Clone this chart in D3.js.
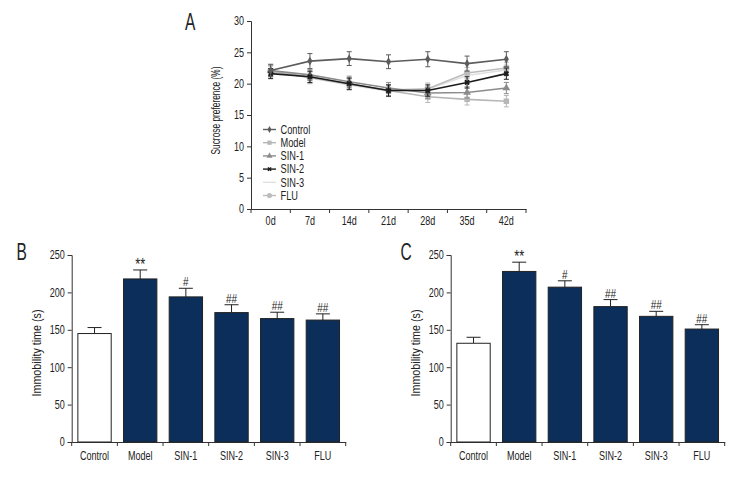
<!DOCTYPE html>
<html><head><meta charset="utf-8">
<script src="https://cdn.jsdelivr.net/npm/d3@7"></script>
<style>
body{margin:0;background:#fff;}
svg text{font-family:"Liberation Sans",Arial,sans-serif;fill:#222;}
</style></head>
<body><svg id="c" width="756" height="480"></svg>
<script>
// ---- Panel A data ----
const days = ["0d","7d","14d","21d","28d","35d","42d"];
const seriesNames = ["Control","Model","SIN-1","SIN-2","SIN-3","FLU"];
const controlA = [22.1, 23.6, 24.0, 23.5, 23.9, 23.2, 23.9];
const controlAErr = [1.0, 1.2, 1.1, 1.1, 1.2, 1.2, 1.2];
const modelA = [22.0, 21.0, 20.0, 18.9, 17.9, 17.5, 17.2];
const modelAErr = [0.9, 1.0, 0.9, 0.9, 0.9, 0.9, 0.9];
const sin1A = [22.1, 21.4, 20.3, 19.3, 18.5, 18.6, 19.3];
const sin1AErr = [0.9, 0.9, 0.9, 0.9, 0.9, 0.9, 0.9];
const sin2A = [21.6, 21.1, 20.0, 18.9, 18.9, 20.2, 21.6];
const sin2AErr = [0.8, 0.9, 0.9, 0.9, 0.9, 0.9, 0.9];
const sin3A = [22.0, 20.9, 19.8, 18.8, 19.1, 21.3, 22.2];
const sin3AErr = [0.8, 0.9, 0.9, 0.9, 0.9, 0.9, 0.9];
const fluA = [22.0, 21.0, 19.9, 19.0, 19.2, 21.7, 22.5];
const fluAErr = [0.8, 0.9, 0.9, 0.9, 0.9, 0.9, 0.9];
const ticksA = [0, 5, 10, 15, 20, 25, 30];

// ---- Panel B / C data ----
const groups = ["Control","Model","SIN-1","SIN-2","SIN-3","FLU"];
const valuesB = [145, 218, 194, 173, 165, 163];
const errB = [8, 12, 11.5, 10.5, 8.5, 8.3];
const sigB = ["", "**", "#", "##", "##", "##"];
const valuesC = [132, 228, 207, 181, 168, 151];
const errC = [8, 12.4, 8.5, 9.4, 6.7, 5.8];
const sigC = ["", "**", "#", "##", "##", "##"];
const ticksBC = [0, 50, 100, 150, 200, 250];

const svg = d3.select("#c");
const AX = "#333";
const SX = 0.74; // horizontal condensing of text

function cond(sel, s) {
  sel.each(function () {
    const t = d3.select(this);
    const x = +t.attr("x") || 0, y = +t.attr("y") || 0;
    t.attr("transform", `translate(${x},${y}) scale(${s},1) translate(${-x},${-y})`);
  });
}
function rotTitle(g, cx, cy, txt, len) {
  g.append("text").attr("transform", `translate(${cx},${cy}) rotate(-90) scale(${SX},1)`)
    .attr("text-anchor", "middle").attr("dy", "0.35em").attr("font-size", 12.5)
    .attr("textLength", len / SX).attr("lengthAdjust", "spacingAndGlyphs").text(txt);
}
function letter(x, y, t) {
  const el = svg.append("text").attr("x", x).attr("y", y).attr("font-size", 23.5).text(t);
  cond(el, 0.66);
}

// ================= Panel A =================
const colorsA = ["#5c5c5c", "#b7b7b7", "#8c8c8c", "#1c1c1c", "#e0e0e0", "#bcbcbc"];
const symbolsA = [d3.symbolDiamond, d3.symbolSquare, d3.symbolTriangle, d3.symbolCross, null, d3.symbolCircle];
const symSize = [22, 30, 26, 20, 0, 34];
const dataA = [controlA, modelA, sin1A, sin2A, sin3A, fluA];
const errA = [controlAErr, modelAErr, sin1AErr, sin2AErr, sin3AErr, fluAErr];

const xA = d3.scaleBand().domain(days).range([251, 526]).padding(0);
const yA = d3.scaleLinear().domain([0, 30]).range([209, 21]);
const gA = svg.append("g");

gA.append("g").attr("class","ax").attr("transform","translate(251,0)")
  .call(d3.axisLeft(yA).tickValues(ticksA).tickSize(4).tickPadding(3));
gA.append("g").attr("class","ax").attr("transform","translate(0,209)")
  .call(d3.axisBottom(xA).tickSize(0).tickPadding(7.5));
const boundsA = days.map(d => xA(d)).concat([xA.range()[1]]);
gA.selectAll("line.xt").data(boundsA).enter().append("line")
  .attr("x1", d => d).attr("x2", d => d).attr("y1", 209).attr("y2", 213)
  .attr("stroke", AX);

rotTitle(gA, 216, 110.5, "Sucrose preference (%)", 88);
letter(185, 30, "A");

const cx = d => xA(d) + xA.bandwidth() / 2;
[4,5,1,2,3,0].forEach(i => {
  const vals = dataA[i], errs = errA[i], col = colorsA[i];
  const g = gA.append("g");
  days.forEach((d, k) => {
    const x = cx(d), y1 = yA(vals[k] + errs[k]), y2 = yA(vals[k] - errs[k]);
    g.append("line").attr("x1", x).attr("x2", x).attr("y1", y1).attr("y2", y2).attr("stroke", col);
    g.append("line").attr("x1", x - 2.5).attr("x2", x + 2.5).attr("y1", y1).attr("y2", y1).attr("stroke", col);
    g.append("line").attr("x1", x - 2.5).attr("x2", x + 2.5).attr("y1", y2).attr("y2", y2).attr("stroke", col);
  });
  const line = d3.line().x((v, k) => cx(days[k])).y(v => yA(v));
  g.append("path").attr("d", line(vals)).attr("fill","none").attr("stroke", col).attr("stroke-width", 1.6);
  if (symbolsA[i]) {
    g.selectAll("path.m").data(vals).enter().append("path")
      .attr("transform", (v, k) => `translate(${cx(days[k])},${yA(v)})` + (i === 3 ? " rotate(45)" : ""))
      .attr("d", d3.symbol().type(symbolsA[i]).size(symSize[i]))
      .attr("fill", col);
  }
});

const legA = gA.append("g");
seriesNames.forEach((n, i) => {
  const y = 129.5 + i * 13.2;
  legA.append("line").attr("x1", 263).attr("x2", 276).attr("y1", y).attr("y2", y)
    .attr("stroke", colorsA[i]).attr("stroke-width", 1.4);
  if (symbolsA[i]) {
    legA.append("path").attr("transform", `translate(269.5,${y})` + (i === 3 ? " rotate(45)" : ""))
      .attr("d", d3.symbol().type(symbolsA[i]).size(symSize[i] * 0.6)).attr("fill", colorsA[i]);
  }
  const t = legA.append("text").attr("x", 280.5).attr("y", y + 4.3).attr("font-size", 12.5).text(n);
  cond(t, SX);
});

// ================= Panels B and C =================
function barPanel(x0, x1, values, errs, sigs, letterX, letterT) {
  const g = svg.append("g");
  const x = d3.scaleBand().domain(groups).range([x0, x1]).padding(0);
  const y = d3.scaleLinear().domain([0, 250]).range([442, 255]);
  const bw = x.bandwidth() * 0.73, off = (x.bandwidth() - bw) / 2;

  g.append("g").attr("class","ax").attr("transform", `translate(${x0},0)`)
    .call(d3.axisLeft(y).tickValues(ticksBC).tickSize(4).tickPadding(3));
  g.append("g").attr("class","ax").attr("transform","translate(0,442)")
    .call(d3.axisBottom(x).tickSize(0).tickPadding(9));
  const bounds = groups.map(d => x(d)).concat([x1]);
  g.selectAll("line.xt").data(bounds).enter().append("line")
    .attr("x1", d => d).attr("x2", d => d).attr("y1", 442).attr("y2", 446).attr("stroke", AX);

  groups.forEach((c, k) => {
    const xc = x(c) + x.bandwidth() / 2, yt = y(values[k] + errs[k]);
    g.append("line").attr("x1", xc).attr("x2", xc).attr("y1", y(values[k])).attr("y2", yt).attr("stroke", "#222");
    g.append("line").attr("x1", xc - 7).attr("x2", xc + 7).attr("y1", yt).attr("y2", yt).attr("stroke", "#222");
    if (sigs[k]) {
      const star = sigs[k] === "**";
      const t = g.append("text").attr("x", xc).attr("y", yt - (star ? 0 : 2)).attr("text-anchor","middle")
        .attr("font-size", star ? 16 : 12.5).text(sigs[k]);
      cond(t, SX + 0.06);
    }
  });

  g.selectAll("rect.bar").data(values).enter().append("rect")
    .attr("x", (v, k) => x(groups[k]) + off).attr("width", bw)
    .attr("y", v => y(v)).attr("height", v => 442 - y(v))
    .attr("fill", (v, k) => k === 0 ? "#fff" : "#0b2e5b")
    .attr("stroke", "#222").attr("stroke-width", 1);

  rotTitle(g, x0 - 35.5, 353, "Immobility time (s)", 87);
  letter(letterX, 260, letterT);
}
barPanel(71.7, 345.7, valuesB, errB, sigB, 16.5, "B");
barPanel(450.7, 724.7, valuesC, errC, sigC, 400.5, "C");

svg.selectAll(".ax .domain").attr("stroke", AX);
svg.selectAll(".ax .tick line").attr("stroke", AX);
svg.selectAll(".ax").attr("font-family", null);
const tt = svg.selectAll(".ax .tick text").attr("font-size", 12.2).attr("fill", "#222");
cond(tt, SX);
</script></body></html>
